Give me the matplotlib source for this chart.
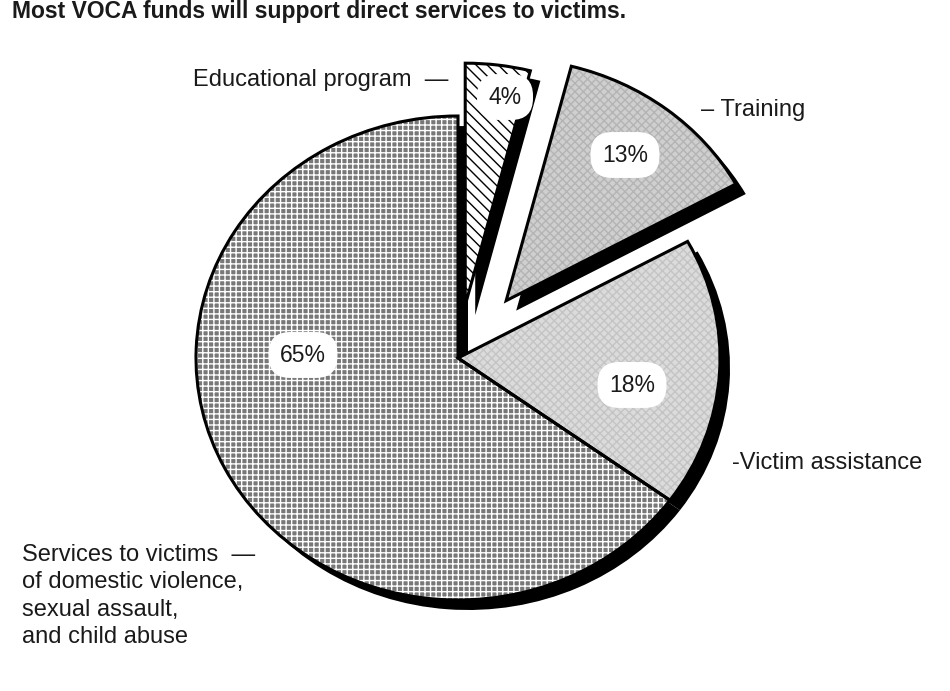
import matplotlib
matplotlib.use("Agg")
import matplotlib.pyplot as plt

plt.rcParams["font.family"] = ["Liberation Sans", "DejaVu Sans"]
plt.rcParams["hatch.linewidth"] = 1.0

# Datos del grafico
TITLE = "Most VOCA funds will support direct services to victims."
categories = ["Services to victims\nof domestic violence,\nsexual assault,\nand child abuse",
              "Victim assistance", "Training", "Educational program"]
shares = [65, 18, 13, 4]

# Estilo y posicion (pixeles de la imagen 950x691)
W, H = 950, 691
CX, CY = 458, 358            # centro de la torta
RX, RY = 262, 242            # la torta original es algo ovalada
explode = [0, 0, 0.30, 0.22]
faces = ["#787878", "#dbdbdb", "#cfcfcf", "white"]
hatch_cols = ["white", "#c4c4c4", "#b4b4b4", "black"]
hatches = ["+++", "xxxx", "xxxx", "\\\\\\"]
SHADOW = (10, 10)            # sombra negra abajo a la derecha

LABEL_POS = [(22, 544, "top"), (732, 463, "center"), (701, 110, "center"),
             (193, 80, "center")]
LABEL_FMT = ["{}  \u2014", "-{}", "\u2013 {}", "{}  \u2014"]
PCT_POS = [(303, 355), (632, 385), (625, 155), (505, 97)]
FS = 17

fig = plt.figure(figsize=(W / 100, H / 100), dpi=100)
ax = fig.add_axes([0, 0, 1, 1])

common = dict(explode=explode, startangle=90, counterclock=True)

# sombra
ax.pie(shares, colors=["black"] * 4,
       center=(SHADOW[0] / RX, -SHADOW[1] / RY),
       wedgeprops=dict(linewidth=0), **common)

# relleno con tramas
wedges, _ = ax.pie(shares, colors=faces, **common)
for w, hc, hp in zip(wedges, hatch_cols, hatches):
    w.set_edgecolor(hc)
    w.set_linewidth(0)
    w.set_hatch(hp)

# contorno
ax.pie(shares, wedgeprops=dict(fill=False, edgecolor="black", linewidth=2.2),
       **common)

ax.set_aspect("auto")
ax.set_xlim(-CX / RX, (W - CX) / RX)
ax.set_ylim(-(H - CY) / RY, CY / RY)
ax.set_axis_off()

for cat, fmt, (px, py, va) in zip(categories, LABEL_FMT, LABEL_POS):
    lines = cat.split("\n")
    lines[0] = fmt.format(lines[0])
    fig.text(px / W, 1 - py / H, "\n".join(lines), ha="left", va=va,
             fontsize=FS, color="#1a1a1a", linespacing=1.32)

for share, (px, py) in zip(shares, PCT_POS):
    fig.text(px / W, 1 - py / H, "%d%%" % share, ha="center", va="center",
             fontsize=FS - 0.5, color="#1a1a1a",
             bbox=dict(boxstyle="round,pad=0.5,rounding_size=0.95",
                       fc="white", ec="none"))

# titulo arriba (en el original queda casi cortado por el borde)
fig.text(12 / W, 1 - 18 / H, TITLE, ha="left", va="baseline",
         fontsize=FS - 0.5, fontweight="bold", color="#1a1a1a")

fig.savefig("out.png", dpi=100)
